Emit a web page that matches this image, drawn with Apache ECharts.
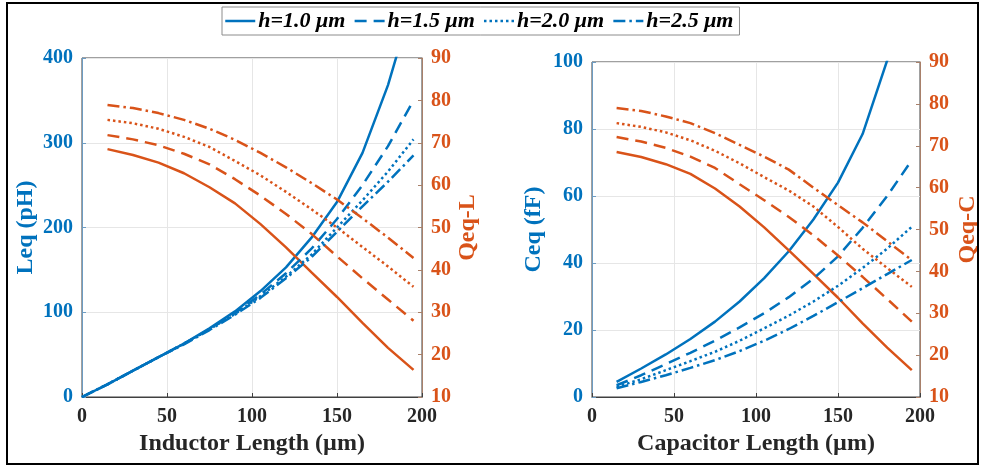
<!DOCTYPE html>
<html>
<head>
<meta charset="utf-8">
<script src="https://cdn.jsdelivr.net/npm/echarts@6/dist/echarts.min.js"></script>
<style>
html,body{margin:0;padding:0;background:#fff;}
#chart{width:983px;height:467px;}
</style>
</head>
<body>
<div id="chart"></div>
<script>
// ---- data ----
const legendNames = ['h=1.0 μm', 'h=1.5 μm', 'h=2.0 μm', 'h=2.5 μm'];
const lengthsL = [0, 15, 30, 45, 60, 75, 90, 105, 120, 135, 150, 165, 180, 195];
const lengthsQ = [15, 30, 45, 60, 75, 90, 105, 120, 135, 150, 165, 180, 195];

const leq_h10 = [0, 15, 31, 47, 63, 81, 101, 125, 153, 188, 230, 288, 368, 470];
const leq_h15 = [0, 15, 31, 47, 63, 80, 99, 121, 146, 175, 210, 250, 296, 350];
const leq_h20 = [0, 15, 31, 47, 63, 80, 98, 119, 142, 168, 200, 232, 266, 304];
const leq_h25 = [0, 15, 31, 47, 62, 79, 97, 117, 140, 165, 195, 225, 254, 285];

const qL_h10 = [68.5, 67.1, 65.3, 62.8, 59.5, 55.7, 50.8, 45.3, 39.4, 33.6, 27.5, 21.6, 16.4];
const qL_h15 = [71.8, 70.8, 69.4, 67.4, 64.9, 61.4, 57.5, 53.2, 48.5, 43.2, 38.0, 33.0, 28.0];
const qL_h20 = [75.4, 74.6, 73.3, 71.4, 69.0, 65.7, 62.3, 58.4, 54.3, 50.0, 45.4, 40.8, 36.0];
const qL_h25 = [78.9, 78.2, 77.0, 75.4, 73.3, 70.7, 67.6, 64.2, 60.5, 56.6, 52.2, 47.6, 42.8];

const ceq_h10 = [4.5, 8.5, 12.7, 17.3, 22.5, 28.5, 35.5, 43.5, 53, 64, 78.5, 100.5, 125];
const ceq_h15 = [3.5, 6.5, 9.8, 13.2, 16.8, 20.8, 25, 29.8, 35.3, 42, 50.5, 60, 70.7];
const ceq_h20 = [3.0, 5.3, 8.0, 10.7, 13.5, 16.8, 20.5, 24.3, 28.5, 33.2, 38.5, 44.3, 50.8];
const ceq_h25 = [2.6, 4.5, 6.5, 8.7, 11.0, 13.7, 16.8, 20.3, 24.2, 28.3, 32.5, 36.7, 40.9];

const qC_h10 = [68.5, 67.3, 65.6, 63.3, 59.8, 55.5, 50.5, 45.0, 39.4, 33.7, 27.6, 21.8, 16.4];
const qC_h15 = [72.1, 71.0, 69.5, 67.4, 64.7, 60.8, 57.0, 53.0, 48.6, 43.8, 38.7, 33.4, 28.0];
const qC_h20 = [75.4, 74.5, 73.2, 71.3, 68.8, 65.8, 62.5, 59.3, 55.5, 50.6, 45.4, 40.8, 36.3];
const qC_h25 = [79.0, 78.3, 77.0, 75.4, 73.0, 70.2, 67.4, 64.3, 60.0, 55.8, 51.7, 47.2, 42.7];

// ---- style ----
const BLUE = '#0072BD', ORANGE = '#D95319';
const FONT = "'Liberation Serif','Times New Roman',serif";
const dashTypes = ['solid', [12, 7], [2.5, 3], [12, 4, 2.5, 4]];

function pairs(xs, ys) { return xs.map((x, i) => [x, ys[i]]); }

function mkSeries(name, xs, ys, color, dash, xi, yi) {
  return {
    type: 'line', name: name, xAxisIndex: xi, yAxisIndex: yi,
    data: pairs(xs, ys), symbol: 'none', showSymbol: false, smooth: false, clip: true,
    lineStyle: { color: color, width: 2.5, type: dash },
    itemStyle: { color: color }, silent: true, animation: false
  };
}

const series = [];
const leqAll = [leq_h10, leq_h15, leq_h20, leq_h25];
const qLAll = [qL_h10, qL_h15, qL_h20, qL_h25];
const ceqAll = [ceq_h10, ceq_h15, ceq_h20, ceq_h25];
const qCAll = [qC_h10, qC_h15, qC_h20, qC_h25];
for (let i = 0; i < 4; i++) {
  series.push(mkSeries(legendNames[i], lengthsL, leqAll[i], BLUE, dashTypes[i], 0, 0));
  series.push(mkSeries('QL ' + i, lengthsQ, qLAll[i], ORANGE, dashTypes[i], 0, 1));
  series.push(mkSeries('C ' + i, lengthsQ, ceqAll[i], BLUE, dashTypes[i], 1, 2));
  series.push(mkSeries('QC ' + i, lengthsQ, qCAll[i], ORANGE, dashTypes[i], 1, 3));
}

function xAx(gi, name) {
  return {
    type: 'value', gridIndex: gi, min: 0, max: 200, interval: 50,
    name: name, nameLocation: 'middle', nameGap: 35,
    nameTextStyle: { fontFamily: FONT, fontWeight: 'bold', fontSize: 24, color: '#262626' },
    axisLine: { show: true, lineStyle: { color: '#404040', width: 1 } },
    axisTick: { show: true, inside: true, length: 4, lineStyle: { color: '#404040' } },
    axisLabel: { fontFamily: FONT, fontWeight: 'bold', fontSize: 20, color: '#262626', margin: 10 },
    splitLine: { show: true, lineStyle: { color: '#e6e6e6', width: 1 } }
  };
}
function yAx(gi, pos, min, max, interval, name, color, axColor, nameGap, split) {
  return {
    type: 'value', gridIndex: gi, position: pos, min: min, max: max, interval: interval,
    name: name, nameLocation: 'middle', nameGap: nameGap, nameRotate: 90,
    nameTextStyle: { fontFamily: FONT, fontWeight: 'bold', fontSize: 24, color: color },
    axisLine: { show: true, lineStyle: { color: axColor, width: 1 } },
    axisTick: { show: true, inside: true, length: 4, lineStyle: { color: axColor } },
    axisLabel: { fontFamily: FONT, fontWeight: 'bold', fontSize: 20, color: color, margin: 9 },
    splitLine: { show: split, lineStyle: { color: '#e6e6e6', width: 1 } }
  };
}

const option = {
  animation: false,
  backgroundColor: '#ffffff',
  legend: {
    data: legendNames, left: 222, top: 7, orient: 'horizontal',
    itemWidth: 30, itemHeight: 14, itemGap: 8,
    padding: [3, 6, 3, 2],
    backgroundColor: '#ffffff', borderColor: '#8c8c8c', borderWidth: 1,
    itemStyle: { opacity: 0 },
    lineStyle: { width: 2.5 },
    textStyle: { fontFamily: FONT, fontWeight: 'bold', fontStyle: 'italic', fontSize: 22, color: '#000', padding: [0, 0, 0, -2] },
    selectedMode: false
  },
  grid: [
    { left: 82, top: 58, width: 340, height: 339, show: true, borderColor: '#404040', borderWidth: 1, backgroundColor: 'transparent' },
    { left: 592, top: 62, width: 328, height: 335, show: true, borderColor: '#404040', borderWidth: 1, backgroundColor: 'transparent' }
  ],
  xAxis: [xAx(0, 'Inductor Length (µm)'), xAx(1, 'Capacitor Length (µm)')],
  yAxis: [
    yAx(0, 'left', 0, 400, 100, 'Leq (pH)', BLUE, '#6d9cc2', 44, true),
    yAx(0, 'right', 10, 90, 10, 'Qeq-L', ORANGE, '#a8806a', 34, false),
    yAx(1, 'left', 0, 100, 20, 'Ceq (fF)', BLUE, '#6d9cc2', 46, true),
    yAx(1, 'right', 10, 90, 10, 'Qeq-C', ORANGE, '#a8806a', 36, false)
  ],
  graphic: [{
    type: 'rect', shape: { x: 7, y: 3, width: 971, height: 461 },
    style: { fill: 'none', stroke: '#000', lineWidth: 2 }, z: 100, silent: true
  }],
  series: series
};

const chart = echarts.init(document.getElementById('chart'), null, { renderer: 'canvas' });
chart.setOption(option);
</script>
</body>
</html>
